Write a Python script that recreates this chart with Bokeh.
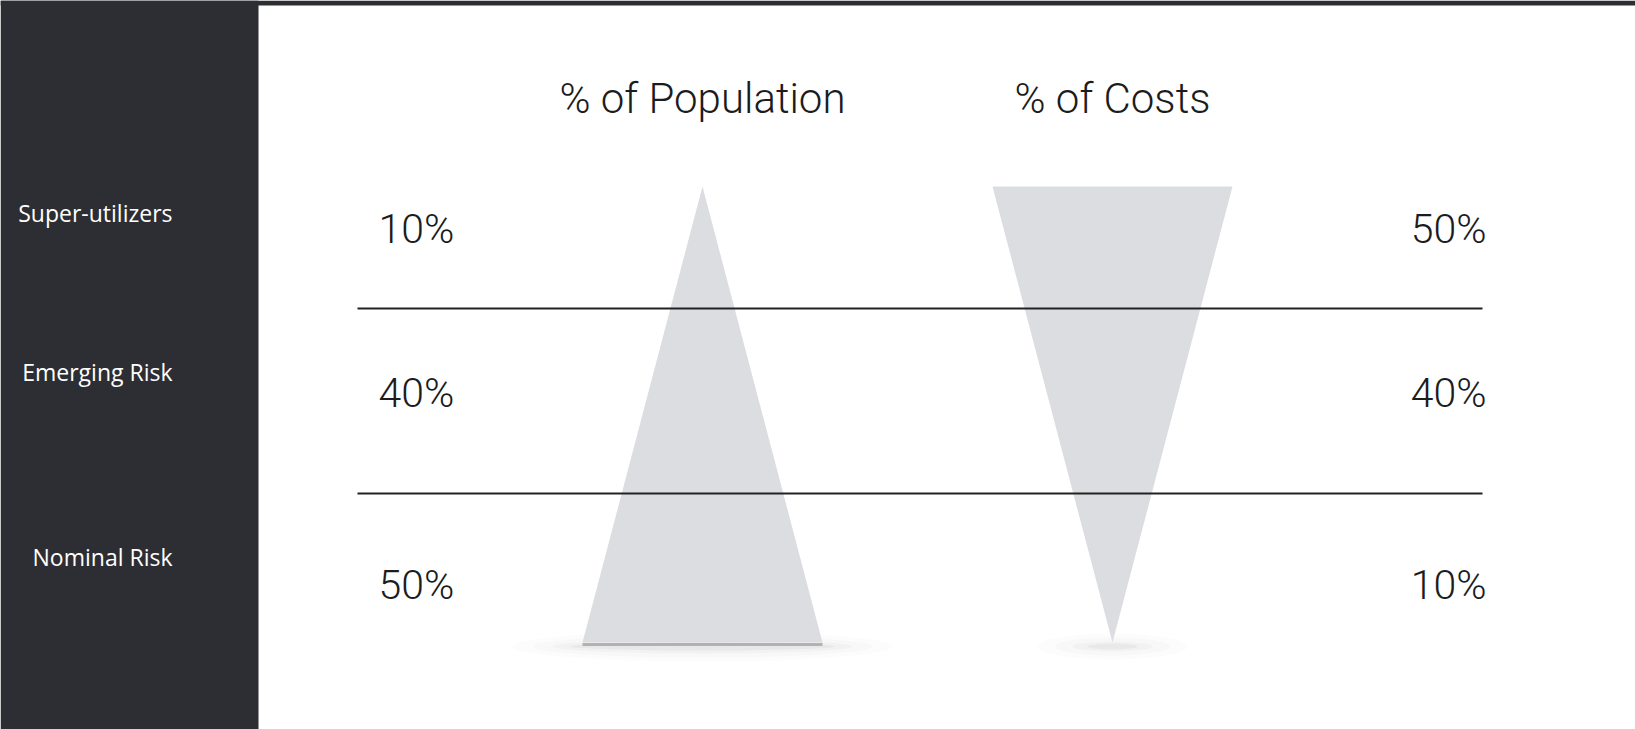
from bokeh.plotting import figure
from bokeh.models import Range1d, ColumnDataSource
from bokeh.core.properties import value
from bokeh.embed import file_html
from bokeh.resources import INLINE

# ---- data ----
categories = ["Super-utilizers", "Emerging Risk", "Nominal Risk"]
population_pct = [10, 40, 50]
cost_pct = [50, 40, 10]
column_titles = ["% of Population", "% of Costs"]

# ---- layout constants (pixels in a flipped, pixel-like data space) ----
W, H = 1635, 729
PANEL_W = 258
TOP_STRIP = 5
band_edges = [186, 308, 493, 642]
cat_label_y = [212, 371, 556]
pct_label_y = [228, 392, 584]
line_x0, line_x1 = 357, 1482
pop_cx, cost_cx = 702, 1112
tri_half = 120
title_y = 98

LIGHT = "Roboto Light"
DARK = "#2d2e33"
TRI = "#dcdde0"
INK = "#1c1c1c"

p = figure(width=W, height=H, x_range=Range1d(0, W), y_range=Range1d(H, 0),
           output_backend="svg", toolbar_location=None, min_border=0)
p.axis.visible = False
p.grid.visible = False
p.outline_line_color = None
p.background_fill_color = "#ffffff"
p.border_fill_color = "#ffffff"

# dark side panel and top strip
p.quad(left=[0, 0], right=[PANEL_W, W], top=[0, 0], bottom=[H, TOP_STRIP],
       fill_color=DARK, line_color=None)

# soft shadows under shapes
top, bottom = band_edges[0], band_edges[-1]
for w, h, a in [(380, 30, 0.02), (340, 22, 0.025), (300, 14, 0.035), (265, 8, 0.06)]:
    p.ellipse(x=[pop_cx], y=[bottom + 4], width=[w], height=[h],
              fill_color="#555555", fill_alpha=a, line_color=None)
for w, h, a in [(150, 26, 0.02), (115, 18, 0.025), (80, 10, 0.035), (50, 6, 0.05)]:
    p.ellipse(x=[cost_cx], y=[bottom + 4], width=[w], height=[h],
              fill_color="#555555", fill_alpha=a, line_color=None)
p.segment(x0=[pop_cx - tri_half], x1=[pop_cx + tri_half], y0=[bottom + 2], y1=[bottom + 2],
          line_color="#9a9a9a", line_width=3, line_alpha=0.7)

# triangles: population widens downward, costs narrows downward
p.patch(x=[pop_cx, pop_cx + tri_half, pop_cx - tri_half], y=[top, bottom, bottom],
        fill_color=TRI, line_color=None)
p.patch(x=[cost_cx - tri_half, cost_cx + tri_half, cost_cx], y=[top, top, bottom],
        fill_color=TRI, line_color=None)

# band separator lines
inner = band_edges[1:-1]
p.segment(x0=[line_x0] * len(inner), x1=[line_x1] * len(inner), y0=inner, y1=inner,
          line_color="#222222", line_width=2)

# column titles
p.text(x=[pop_cx, cost_cx], y=[title_y, title_y], text=column_titles,
       text_font=value(LIGHT), text_font_size="42px", text_color=INK,
       text_align="center", text_baseline="middle")

# category labels in the dark panel
p.text(x=[172] * 3, y=cat_label_y, text=categories,
       text_font=value("Open Sans"), text_font_size="23px", text_color="#ffffff",
       text_align="right", text_baseline="middle")

# percentages
src_l = ColumnDataSource(dict(y=pct_label_y, t=[f"{v}%" for v in population_pct]))
p.text(x=378, y="y", text="t", source=src_l, text_font=value(LIGHT), text_font_size="41px",
       text_color=INK, text_align="left", text_baseline="middle")
src_r = ColumnDataSource(dict(y=pct_label_y, t=[f"{v}%" for v in cost_pct]))
p.text(x=1486, y="y", text="t", source=src_r, text_font=value(LIGHT), text_font_size="41px",
       text_color=INK, text_align="right", text_baseline="middle")

open("out.html", "w").write(file_html(p, INLINE))
